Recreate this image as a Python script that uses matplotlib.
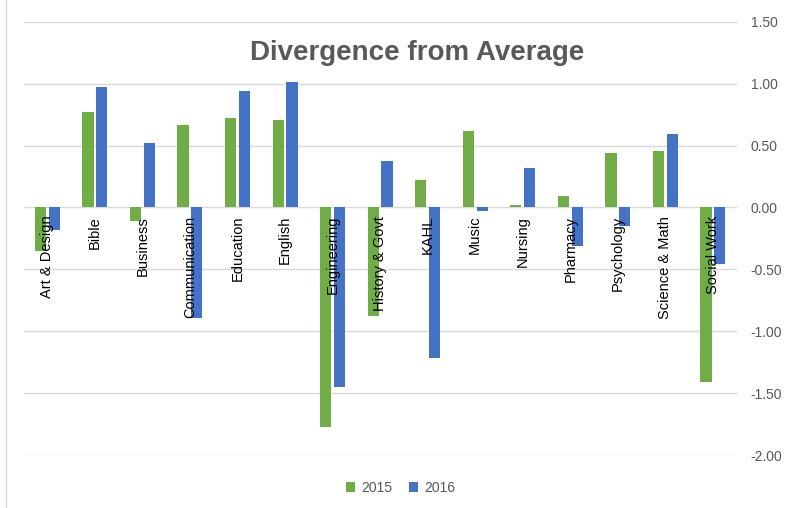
import numpy as np
import matplotlib.pyplot as plt
from matplotlib.lines import Line2D

plt.rcParams['font.family'] = ['Liberation Sans', 'DejaVu Sans']
plt.rcParams['axes.unicode_minus'] = False

majors = ['Art & Design', 'Bible', 'Business', 'Communication', 'Education', 'English',
          'Engineering', 'History & Govt', 'KAHL', 'Music', 'Nursing', 'Pharmacy',
          'Psychology', 'Science & Math', 'Social Work']
div_2015 = [-0.35, 0.77, -0.11, 0.67, 0.72, 0.71, -1.77, -0.875, 0.22, 0.62, 0.02, 0.095,
            0.44, 0.455, -1.41]
div_2016 = [-0.18, 0.97, 0.52, -0.89, 0.94, 1.01, -1.45, 0.375, -1.22, -0.03, 0.32, -0.31,
            -0.15, 0.59, -0.46]

green = '#70AD47'
blue = '#4472C4'
grey = '#595959'

fig = plt.figure(figsize=(7.91, 5.08), dpi=100)
ax = fig.add_axes([0.0298, 0.1043, 0.9015, 0.8527])

x = np.arange(len(majors))
w = 0.235
ax.bar(x - 0.145, div_2015, w, color=green, label='2015', zorder=2)
ax.bar(x + 0.145, div_2016, w, color=blue, label='2016', zorder=2)

# category names hang below the zero line, on top of the bars
for xi, name in zip(x, majors):
    ax.annotate(name, (xi, 0), xytext=(0, -6), textcoords='offset points',
                rotation=90, ha='center', va='top', fontsize=10.5,
                color='black', zorder=5)

ax.set_xlim(-0.5, len(majors) - 0.5)
ax.set_ylim(-2.0, 1.5)
ax.set_yticks(np.arange(-2.0, 1.51, 0.5))
ax.set_yticklabels(['%.2f' % v for v in np.arange(-2.0, 1.51, 0.5)])
ax.yaxis.tick_right()
ax.tick_params(axis='y', length=0, pad=10, labelsize=10, labelcolor=grey)
ax.set_xticks([])
ax.grid(axis='y', color='#D9D9D9', linewidth=1, zorder=0)
ax.set_axisbelow(True)
for s in ax.spines.values():
    s.set_visible(False)

fig.text(0.527, 0.896, 'Divergence from Average', ha='center', va='center',
         fontsize=20, fontweight='bold', color=grey)

fig.legend(loc='center', bbox_to_anchor=(0.506, 0.04), ncol=2, frameon=False,
           fontsize=10, labelcolor=grey, handlelength=0.7, handleheight=0.7,
           handletextpad=0.4, columnspacing=1.2)

fig.add_artist(Line2D([0.007, 0.007], [0, 1], color='#D9D9D9', linewidth=1))

fig.savefig('out.png', dpi=100)
